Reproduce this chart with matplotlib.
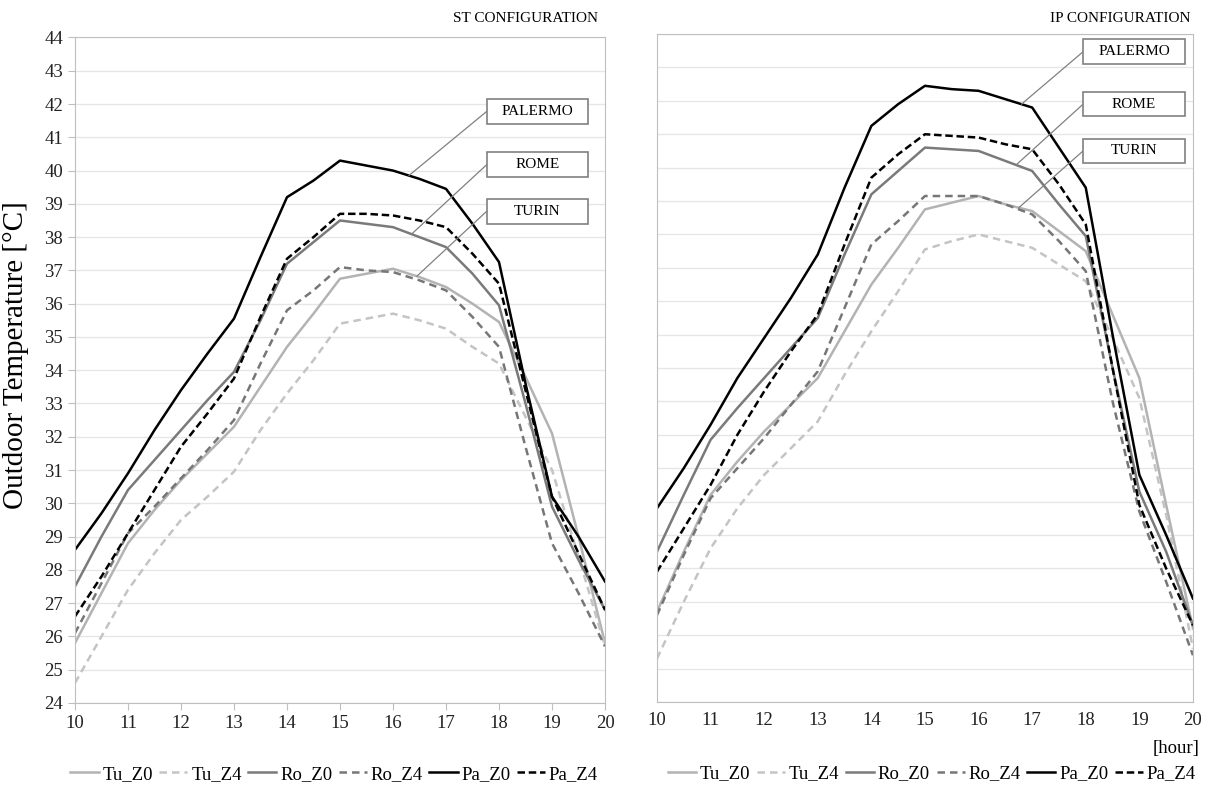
import numpy as np
import matplotlib.pyplot as plt
from matplotlib.patches import Rectangle

plt.rcParams['font.family'] = ['Liberation Serif', 'DejaVu Serif']

hours = [10, 10.5, 11, 11.5, 12, 12.5, 13, 13.5, 14, 14.5, 15,
         15.5, 16, 16.5, 17, 17.5, 18, 18.5, 19, 19.5, 20]

# ST configuration
st_tu_z0 = [25.8, 27.3, 28.8, 29.8, 30.7, 31.5, 32.3, 33.5, 34.7, 35.7, 36.75,
            36.9, 37.05, 36.8, 36.5, 36.0, 35.45, 33.8, 32.1, 29.0, 25.8]
st_tu_z4 = [24.6, 26.0, 27.4, 28.5, 29.5, 30.2, 30.95, 32.2, 33.3, 34.3, 35.4,
            35.55, 35.7, 35.5, 35.25, 34.7, 34.2, 32.6, 31.0, 28.4, 25.7]
st_ro_z0 = [27.5, 29.0, 30.4, 31.3, 32.2, 33.1, 33.95, 35.5, 37.2, 37.85, 38.5,
            38.4, 38.3, 38.0, 37.7, 36.9, 35.95, 33.0, 29.9, 28.3, 26.8]
st_ro_z4 = [26.1, 27.6, 29.1, 29.9, 30.75, 31.6, 32.5, 34.2, 35.8, 36.4, 37.1,
            37.0, 36.95, 36.7, 36.4, 35.6, 34.7, 31.7, 28.8, 27.3, 25.7]
st_pa_z0 = [28.6, 29.7, 30.9, 32.2, 33.4, 34.5, 35.55, 37.4, 39.2, 39.7, 40.3,
            40.15, 40.0, 39.75, 39.45, 38.4, 37.25, 33.6, 30.2, 29.0, 27.65]
st_pa_z4 = [26.6, 27.8, 29.1, 30.4, 31.7, 32.7, 33.75, 35.6, 37.35, 38.0, 38.7,
            38.7, 38.65, 38.5, 38.3, 37.5, 36.6, 33.4, 30.2, 28.5, 26.8]

# IP configuration
ip_tu_z0 = [26.7, 28.5, 30.2, 31.2, 32.1, 32.9, 33.7, 35.1, 36.5, 37.6, 38.75,
            38.95, 39.15, 38.9, 38.7, 38.1, 37.5, 35.6, 33.7, 29.9, 26.2]
ip_tu_z4 = [25.3, 27.0, 28.6, 29.8, 30.8, 31.6, 32.4, 33.8, 35.1, 36.3, 37.55,
            37.8, 38.0, 37.8, 37.6, 37.1, 36.6, 34.9, 33.1, 29.6, 25.6]
ip_ro_z0 = [28.5, 30.2, 31.85, 32.8, 33.7, 34.6, 35.5, 37.4, 39.2, 39.9, 40.6,
            40.55, 40.5, 40.2, 39.9, 38.9, 37.95, 34.0, 30.3, 28.5, 26.3]
ip_ro_z4 = [26.6, 28.4, 30.1, 31.0, 31.9, 32.9, 33.9, 35.8, 37.7, 38.4, 39.15,
            39.15, 39.15, 38.9, 38.6, 37.8, 36.9, 33.0, 29.7, 27.6, 25.4]
ip_pa_z0 = [29.8, 31.0, 32.3, 33.7, 34.9, 36.1, 37.4, 39.4, 41.25, 41.9, 42.45,
            42.35, 42.3, 42.05, 41.8, 40.6, 39.4, 35.0, 30.8, 29.0, 27.1]
ip_pa_z4 = [27.9, 29.2, 30.5, 32.0, 33.3, 34.5, 35.6, 37.7, 39.7, 40.4, 41.0,
            40.95, 40.9, 40.7, 40.55, 39.5, 38.3, 34.0, 29.9, 28.0, 26.3]

labels = ['Tu_Z0', 'Tu_Z4', 'Ro_Z0', 'Ro_Z4', 'Pa_Z0', 'Pa_Z4']
colors = ['#b3b3b3', '#c4c4c4', '#7a7a7a', '#767676', '#000000', '#000000']
styles = ['-', (0, (3, 2)), '-', (0, (3, 2)), '-', (0, (3, 1.5))]

st = [st_tu_z0, st_tu_z4, st_ro_z0, st_ro_z4, st_pa_z0, st_pa_z4]
ip = [ip_tu_z0, ip_tu_z4, ip_ro_z0, ip_ro_z4, ip_pa_z0, ip_pa_z4]

fig = plt.figure(figsize=(12.11, 7.99), dpi=100)
ax1 = fig.add_axes([0.0619, 0.1202, 0.4377, 0.8329])
ax2 = fig.add_axes([0.5425, 0.1214, 0.4426, 0.8360])


def draw_panel(ax, series, boxes, legx):
    for s, lab, c, ls in zip(series, labels, colors, styles):
        ax.plot(hours, s, color=c, linestyle=ls, linewidth=1.8, label=lab)
    ax.set_xlim(10, 20)
    ax.set_ylim(24, 44)
    ax.set_xticks(range(10, 21))
    ax.set_yticks(range(24, 45))
    ax.grid(axis='y', color='#e6e6e6', linewidth=1)
    ax.set_axisbelow(True)
    for sp in ax.spines.values():
        sp.set_color('#bfbfbf')
    ax.tick_params(labelsize=13.5, colors='#bfbfbf', labelcolor='#222222')
    # city labels with leader lines
    for name, (bx, by, bw, bh), s, xp in boxes:
        ax.add_patch(Rectangle((bx, by), bw, bh, transform=ax.transAxes,
                               facecolor='white', edgecolor='#808080',
                               linewidth=1.2, zorder=5))
        ax.text(bx + bw / 2, by + bh / 2, name, transform=ax.transAxes,
                ha='center', va='center', fontsize=11, zorder=6)
        ax.annotate('', xy=(xp, np.interp(xp, hours, s)), xycoords='data',
                    xytext=(bx, by + bh / 2), textcoords='axes fraction',
                    arrowprops=dict(arrowstyle='-', color='#808080', lw=0.9,
                                    shrinkA=0, shrinkB=0), zorder=4)
    ax.legend(loc='upper center', bbox_to_anchor=(legx, -0.083), ncol=6,
              frameon=False, fontsize=13.5, handlelength=1.5,
              handletextpad=0.2, columnspacing=0.35, borderaxespad=0)


draw_panel(ax1, st, [
    ('PALERMO', (0.777, 0.870, 0.191, 0.038), st_pa_z0, 16.3),
    ('ROME', (0.777, 0.790, 0.191, 0.038), st_ro_z0, 16.35),
    ('TURIN', (0.777, 0.720, 0.191, 0.038), st_tu_z0, 16.45),
], 0.489)
draw_panel(ax2, ip, [
    ('PALERMO', (0.795, 0.955, 0.190, 0.037), ip_pa_z0, 16.8),
    ('ROME', (0.795, 0.877, 0.190, 0.036), ip_ro_z0, 16.7),
    ('TURIN', (0.795, 0.807, 0.190, 0.036), ip_tu_z0, 16.75),
], 0.513)

ax1.tick_params(axis='both', direction='out', length=5)
ax2.tick_params(axis='y', left=False, labelleft=False)
ax2.tick_params(axis='x', bottom=False)

ax1.set_ylabel('Outdoor Temperature [°C]', fontsize=21)
ax1.yaxis.set_label_coords(-0.086, 0.523)
fig.text(598 / 1211, 1 - 18 / 799, 'ST CONFIGURATION', ha='right',
         va='center', fontsize=11)
fig.text(1190 / 1211, 1 - 18 / 799, 'IP CONFIGURATION', ha='right',
         va='center', fontsize=11)
fig.text(1200 / 1211, 1 - 748 / 799, '[hour]', ha='right', va='center',
         fontsize=13.5)

fig.savefig('out.png', dpi=100)
